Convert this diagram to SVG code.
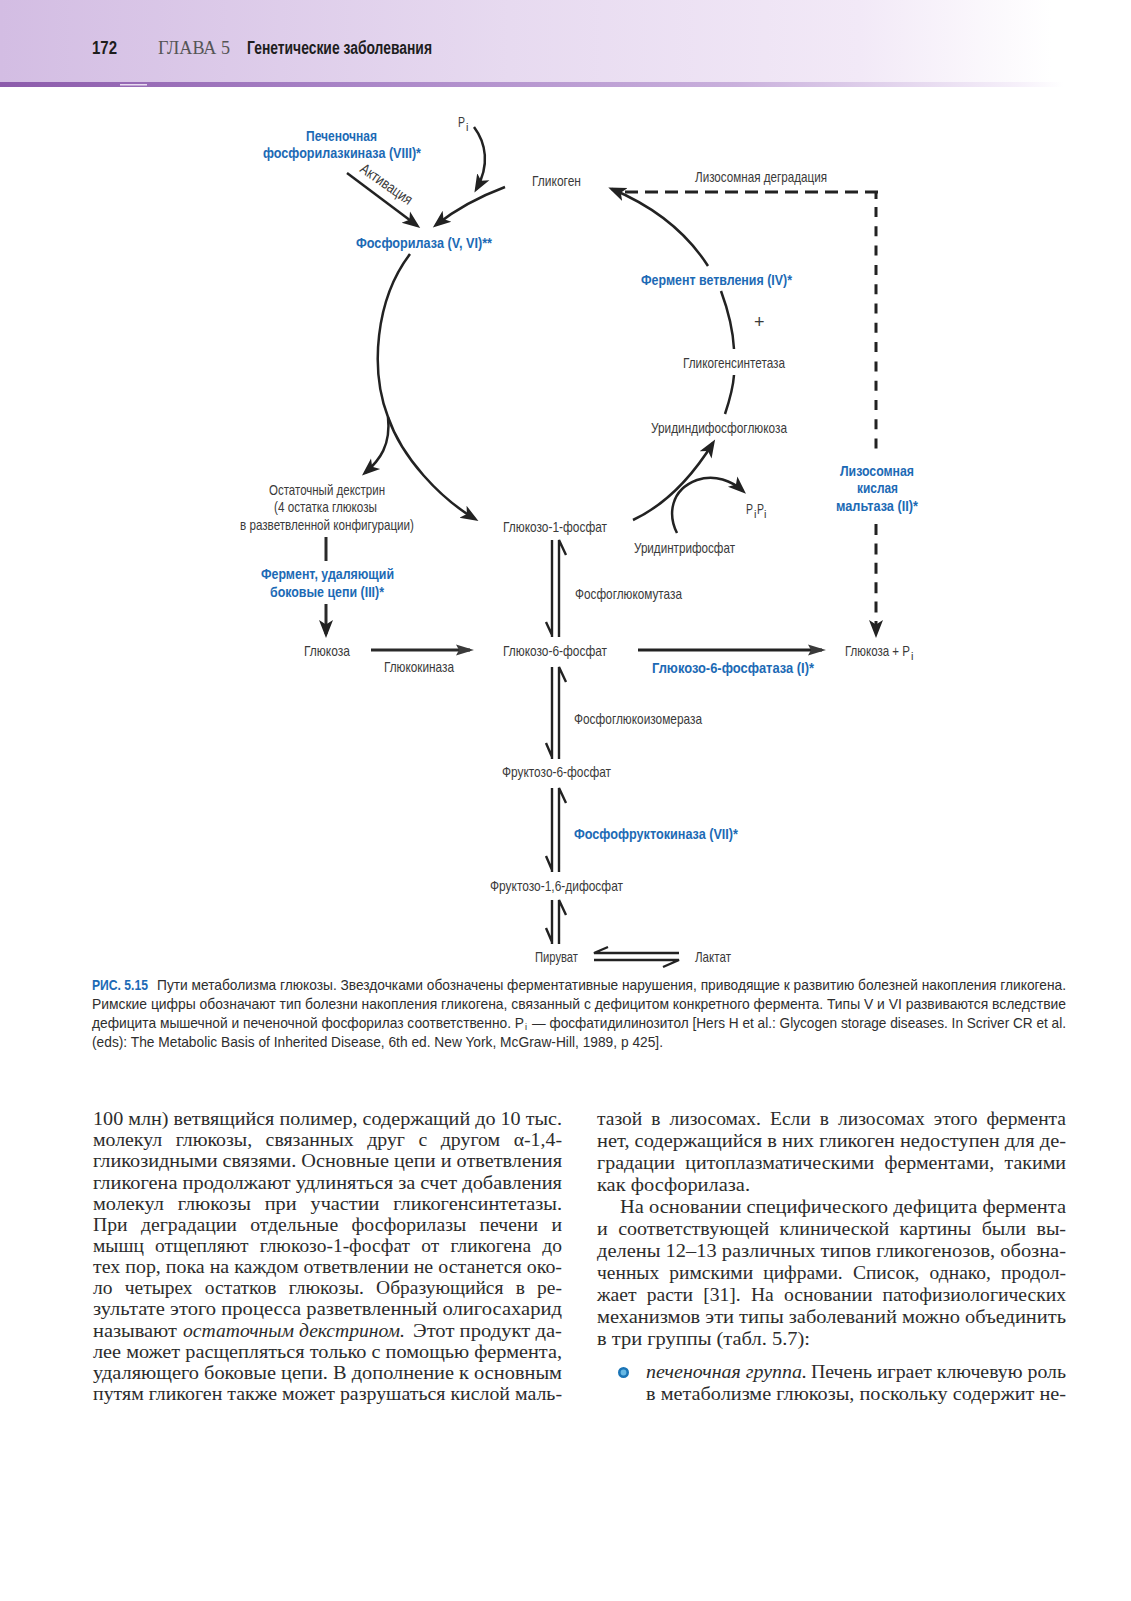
<svg xmlns="http://www.w3.org/2000/svg" width="1131" height="1601" viewBox="0 0 1131 1601">
<style>
text{font-family:"Liberation Sans Narrow","Liberation Sans",Arial,sans-serif;font-size:15px;fill:#3a3a3a}
.e{font-weight:bold;fill:#1c6ab5;font-size:15px}
.s{font-size:11px}
.c{font-size:15px;fill:#2e2e2e}
.b{font-family:"Liberation Serif","Times New Roman",serif;font-size:18.5px;fill:#2c2c2c}
.i{font-style:italic}
.h{font-size:18px;font-weight:bold;fill:#1d1d1d}
.g{font-family:"Liberation Serif","Times New Roman",serif;font-size:18px;fill:#555}
.l{fill:none;stroke:#222;stroke-width:2.5}
.m{fill:none;stroke:#2a2a2a;stroke-width:3}
.d{fill:none;stroke:#222;stroke-width:3}
.t{fill:none;stroke:#222;stroke-width:2.4}
</style>
<defs>
<linearGradient id="hg" x1="0" x2="1" y1="0" y2="0"><stop offset="0" stop-color="#d3bde3"/><stop offset=".45" stop-color="#e7daf0"/><stop offset=".76" stop-color="#f2e9f7"/><stop offset=".93" stop-color="#ffffff"/></linearGradient>
<linearGradient id="sg" x1="0" x2="1" y1="0" y2="0"><stop offset="0" stop-color="#8c5bab"/><stop offset=".3" stop-color="#a883c6"/><stop offset=".65" stop-color="#c9b0dc"/><stop offset=".9" stop-color="#f6f0fa"/><stop offset=".94" stop-color="#ffffff"/></linearGradient>
<marker id="a" markerUnits="userSpaceOnUse" markerWidth="22" markerHeight="18" viewBox="0 -9 22 18" refX="14" refY="0" orient="auto"><path d="M0,-7 L18,0 L0,7 L4.5,0Z" fill="#222"/></marker>
<marker id="w" markerUnits="userSpaceOnUse" markerWidth="24" markerHeight="14" viewBox="0 -7 24 14" refX="14" refY="0" orient="auto"><path d="M0,-5.5 L18,0 L0,5.5 L3,0Z" fill="#3a3a3a"/></marker>
</defs>
<g id="header">
<rect x="0" y="0" width="1131" height="82" fill="url(#hg)"/>
<rect x="0" y="82" width="1131" height="5" fill="url(#sg)"/>
<rect x="120" y="84" width="27" height="1.5" fill="#e8dcf0"/>
<text class="h" x="92" y="54" textLength="25" lengthAdjust="spacingAndGlyphs">172</text>
<text class="g" x="158" y="54" textLength="72" lengthAdjust="spacingAndGlyphs">ГЛАВА 5</text>
<text class="h" x="247" y="54" textLength="185" lengthAdjust="spacingAndGlyphs">Генетические заболевания</text>
</g>
<g id="connectors">
<path class="l" marker-end="url(#a)" d="M474,127 C486,143 490,165 476.4,189"/>
<path class="l" marker-end="url(#a)" d="M505,187 Q465,202 436,225"/>
<path class="l" marker-end="url(#a)" d="M347,173 L417,225.5"/>
<path class="l" marker-end="url(#a)" d="M410,254 C375,300 370,370 388,417 C402,458 440,498 475,519"/>
<path class="l" marker-end="url(#a)" d="M388,417 C391,445 380,460 365,473"/>
<path class="l" marker-end="url(#a)" d="M708,266 C685,230 650,205 612,189"/>
<path class="l" d="M721,291 C728,310 733,330 734,349"/>
<path class="l" d="M734,375 C733,390 729,402 725,414"/>
<path class="l" marker-end="url(#a)" d="M633,520 C665,505 690,480 713,443"/>
<path class="l" marker-end="url(#a)" d="M677,533 C668,515 670,490 697,480 C715,474 732,481 743,491"/>
<path class="d" stroke-dasharray="13 7" d="M878,192 H625"/>
<path class="d" d="M876,191 V199"/>
<path class="d" stroke-dasharray="10 9.3" d="M876,207 V450"/>
<path class="d" stroke-dasharray="11 8.4" marker-end="url(#a)" d="M876,524 V634"/>
<path class="m" d="M326,537 V561"/>
<path class="m" marker-end="url(#a)" d="M326,604 V634"/>
<path class="m" marker-end="url(#w)" d="M371,650 H470"/>
<path class="d" marker-end="url(#w)" d="M638,650 H822"/>
<path class="t" d="M552,540 V637 M546,622 L552,635 M559,637 V540 L566,555"/>
<path class="t" d="M552,667 V759 M546,743 L552,757 M559,759 V667 L566,682"/>
<path class="t" d="M552,788 V872 M546,856 L552,870 M559,872 V788 L566,803"/>
<path class="t" d="M552,900 V944 M546,928 L552,942 M559,944 V900 L566,915"/>
<path class="t" d="M679,953 H594 L608,947 M594,960 H679 L663,967"/>
</g>
<g id="n-kinase"><text class="e" x="306" y="141" textLength="71" lengthAdjust="spacingAndGlyphs">Печеночная</text><text class="e" x="263" y="158" textLength="158" lengthAdjust="spacingAndGlyphs">фосфорилазкиназа (VIII)*</text></g>
<g id="n-pi"><text x="458" y="127" textLength="7" lengthAdjust="spacingAndGlyphs">P</text><text class="s" x="466" y="131">i</text></g>
<g id="n-activation"><text transform="translate(359,171) rotate(35)" textLength="60" lengthAdjust="spacingAndGlyphs">Активация</text></g>
<g id="n-glycogen"><text x="532" y="186" textLength="49" lengthAdjust="spacingAndGlyphs">Гликоген</text></g>
<g id="n-lysdeg"><text x="695" y="182" textLength="132" lengthAdjust="spacingAndGlyphs">Лизосомная деградация</text></g>
<g id="n-phosphorylase"><text class="e" x="356" y="248" textLength="136" lengthAdjust="spacingAndGlyphs">Фосфорилаза (V, VI)**</text></g>
<g id="n-branch"><text class="e" x="641" y="285" textLength="151" lengthAdjust="spacingAndGlyphs">Фермент ветвления (IV)*</text></g>
<g id="n-plus"><text x="754" y="328" style="font-family:'Liberation Sans',sans-serif;font-size:18px">+</text></g>
<g id="n-gs"><text x="683" y="368" textLength="102" lengthAdjust="spacingAndGlyphs">Гликогенсинтетаза</text></g>
<g id="n-udpg"><text x="651" y="433" textLength="136" lengthAdjust="spacingAndGlyphs">Уридиндифосфоглюкоза</text></g>
<g id="n-ppi"><text x="746" y="514" textLength="7" lengthAdjust="spacingAndGlyphs">P</text><text class="s" x="754" y="518">i</text><text x="757" y="514" textLength="7" lengthAdjust="spacingAndGlyphs">P</text><text class="s" x="764" y="518">i</text></g>
<g id="n-utp"><text x="634" y="553" textLength="101" lengthAdjust="spacingAndGlyphs">Уридинтрифосфат</text></g>
<g id="n-maltase"><text class="e" x="840" y="476" textLength="74" lengthAdjust="spacingAndGlyphs">Лизосомная</text><text class="e" x="857" y="493" textLength="41" lengthAdjust="spacingAndGlyphs">кислая</text><text class="e" x="836" y="511" textLength="82" lengthAdjust="spacingAndGlyphs">мальтаза (II)*</text></g>
<g id="n-dextrin"><text x="269" y="495" textLength="116" lengthAdjust="spacingAndGlyphs">Остаточный декстрин</text><text x="274" y="512" textLength="103" lengthAdjust="spacingAndGlyphs">(4 остатка глюкозы</text><text x="240" y="530" textLength="174" lengthAdjust="spacingAndGlyphs">в разветвленной конфигурации)</text></g>
<g id="n-g1p"><text x="503" y="532" textLength="104" lengthAdjust="spacingAndGlyphs">Глюкозо-1-фосфат</text></g>
<g id="n-debrancher"><text class="e" x="261" y="579" textLength="133" lengthAdjust="spacingAndGlyphs">Фермент, удаляющий</text><text class="e" x="270" y="597" textLength="114" lengthAdjust="spacingAndGlyphs">боковые цепи (III)*</text></g>
<g id="n-pgm"><text x="575" y="599" textLength="107" lengthAdjust="spacingAndGlyphs">Фосфоглюкомутаза</text></g>
<g id="n-glucose"><text x="304" y="656" textLength="46" lengthAdjust="spacingAndGlyphs">Глюкоза</text></g>
<g id="n-gk"><text x="384" y="672" textLength="70" lengthAdjust="spacingAndGlyphs">Глюкокиназа</text></g>
<g id="n-g6p"><text x="503" y="656" textLength="104" lengthAdjust="spacingAndGlyphs">Глюкозо-6-фосфат</text></g>
<g id="n-g6pase"><text class="e" x="652" y="673" textLength="162" lengthAdjust="spacingAndGlyphs">Глюкозо-6-фосфатаза (I)*</text></g>
<g id="n-glucosepi"><text x="845" y="656" textLength="65" lengthAdjust="spacingAndGlyphs">Глюкоза + P</text><text class="s" x="911" y="660">i</text></g>
<g id="n-pgi"><text x="574" y="724" textLength="128" lengthAdjust="spacingAndGlyphs">Фосфоглюкоизомераза</text></g>
<g id="n-f6p"><text x="502" y="777" textLength="109" lengthAdjust="spacingAndGlyphs">Фруктозо-6-фосфат</text></g>
<g id="n-pfk"><text class="e" x="574" y="839" textLength="164" lengthAdjust="spacingAndGlyphs">Фосфофруктокиназа (VII)*</text></g>
<g id="n-fbp"><text x="490" y="891" textLength="133" lengthAdjust="spacingAndGlyphs">Фруктозо-1,6-дифосфат</text></g>
<g id="n-pyruvate"><text x="535" y="962" textLength="43" lengthAdjust="spacingAndGlyphs">Пируват</text></g>
<g id="n-lactate"><text x="695" y="962" textLength="36" lengthAdjust="spacingAndGlyphs">Лактат</text></g>
<g id="caption">
<text class="c" x="92" y="990" textLength="56" lengthAdjust="spacingAndGlyphs" style="font-weight:bold;fill:#1c6ab5">РИС. 5.15</text>
<text class="c" x="157" y="990" textLength="909" lengthAdjust="spacingAndGlyphs">Пути метаболизма глюкозы. Звездочками обозначены ферментативные нарушения, приводящие к развитию болезней накопления гликогена.</text>
<text class="c" x="92" y="1009" textLength="974" lengthAdjust="spacingAndGlyphs">Римские цифры обозначают тип болезни накопления гликогена, связанный с дефицитом конкретного фермента. Типы V и VI развиваются вследствие</text>
<text class="c" x="92" y="1028" textLength="432" lengthAdjust="spacingAndGlyphs">дефицита мышечной и печеночной фосфорилаз соответственно. P</text>
<text class="c" x="525" y="1030" style="font-size:9px">i</text>
<text class="c" x="532" y="1028" textLength="534" lengthAdjust="spacingAndGlyphs">— фосфатидилинозитол [Hers H et al.: Glycogen storage diseases. In Scriver CR et al.</text>
<text class="c" x="92" y="1047" textLength="571" lengthAdjust="spacingAndGlyphs">(eds): The Metabolic Basis of Inherited Disease, 6th ed. New York, McGraw-Hill, 1989, p 425].</text>
</g>
<g id="body-left">
<text class="b" x="93" y="1125" textLength="469" lengthAdjust="spacingAndGlyphs">100 млн) ветвящийся полимер, содержащий до 10 тыс.</text>
<text class="b" x="93" y="1146" word-spacing="8" textLength="469" lengthAdjust="spacingAndGlyphs">молекул глюкозы, связанных друг с другом α-1,4-</text>
<text class="b" x="93" y="1167.3" textLength="469" lengthAdjust="spacingAndGlyphs">гликозидными связями. Основные цепи и ответвления</text>
<text class="b" x="93" y="1188.5" textLength="469" lengthAdjust="spacingAndGlyphs">гликогена продолжают удлиняться за счет добавления</text>
<text class="b" x="93" y="1209.6" word-spacing="8" textLength="469" lengthAdjust="spacingAndGlyphs">молекул глюкозы при участии гликогенсинтетазы.</text>
<text class="b" x="93" y="1230.8" word-spacing="8" textLength="469" lengthAdjust="spacingAndGlyphs">При деградации отдельные фосфорилазы печени и</text>
<text class="b" x="93" y="1251.9" word-spacing="6" textLength="469" lengthAdjust="spacingAndGlyphs">мышц отщепляют глюкозо-1-фосфат от гликогена до</text>
<text class="b" x="93" y="1273" textLength="469" lengthAdjust="spacingAndGlyphs">тех пор, пока на каждом ответвлении не останется око-</text>
<text class="b" x="93" y="1294.2" word-spacing="7" textLength="469" lengthAdjust="spacingAndGlyphs">ло четырех остатков глюкозы. Образующийся в ре-</text>
<text class="b" x="93" y="1315.3" textLength="469" lengthAdjust="spacingAndGlyphs">зультате этого процесса разветвленный олигосахарид</text>
<text class="b" x="93" y="1336.5" textLength="84" lengthAdjust="spacingAndGlyphs">называют</text>
<text class="b i" x="183" y="1336.5" textLength="222" lengthAdjust="spacingAndGlyphs">остаточным декстрином.</text>
<text class="b" x="413" y="1336.5" textLength="149" lengthAdjust="spacingAndGlyphs">Этот продукт да-</text>
<text class="b" x="93" y="1357.6" textLength="469" lengthAdjust="spacingAndGlyphs">лее может расщепляться только с помощью фермента,</text>
<text class="b" x="93" y="1378.8" textLength="469" lengthAdjust="spacingAndGlyphs">удаляющего боковые цепи. В дополнение к основным</text>
<text class="b" x="93" y="1400" textLength="469" lengthAdjust="spacingAndGlyphs">путям гликоген также может разрушаться кислой маль-</text>
</g>
<g id="body-right">
<text class="b" x="597" y="1125" word-spacing="4" textLength="469" lengthAdjust="spacingAndGlyphs">тазой в лизосомах. Если в лизосомах этого фермента</text>
<text class="b" x="597" y="1147" textLength="469" lengthAdjust="spacingAndGlyphs">нет, содержащийся в них гликоген недоступен для де-</text>
<text class="b" x="597" y="1169" word-spacing="5" textLength="469" lengthAdjust="spacingAndGlyphs">градации цитоплазматическими ферментами, такими</text>
<text class="b" x="597" y="1191" textLength="153" lengthAdjust="spacingAndGlyphs">как фосфорилаза.</text>
<text class="b" x="620" y="1213" textLength="446" lengthAdjust="spacingAndGlyphs">На основании специфического дефицита фермента</text>
<text class="b" x="597" y="1235" word-spacing="5" textLength="469" lengthAdjust="spacingAndGlyphs">и соответствующей клинической картины были вы-</text>
<text class="b" x="597" y="1256.7" textLength="469" lengthAdjust="spacingAndGlyphs">делены 12–13 различных типов гликогенозов, обозна-</text>
<text class="b" x="597" y="1278.7" word-spacing="5" textLength="469" lengthAdjust="spacingAndGlyphs">ченных римскими цифрами. Список, однако, продол-</text>
<text class="b" x="597" y="1300.6" word-spacing="5" textLength="469" lengthAdjust="spacingAndGlyphs">жает расти [31]. На основании патофизиологических</text>
<text class="b" x="597" y="1322.6" textLength="469" lengthAdjust="spacingAndGlyphs">механизмов эти типы заболеваний можно объединить</text>
<text class="b" x="597" y="1344.5" textLength="213" lengthAdjust="spacingAndGlyphs">в три группы (табл. 5.7):</text>
<circle cx="623.5" cy="1372.5" r="4.2" fill="#66b8e4" stroke="#1a74b6" stroke-width="2.6"/>
<text class="b i" x="646" y="1378" textLength="161" lengthAdjust="spacingAndGlyphs">печеночная группа.</text>
<text class="b" x="811" y="1378" textLength="255" lengthAdjust="spacingAndGlyphs">Печень играет ключевую роль</text>
<text class="b" x="646" y="1400" textLength="420" lengthAdjust="spacingAndGlyphs">в метаболизме глюкозы, поскольку содержит не-</text>
</g>
</svg>
